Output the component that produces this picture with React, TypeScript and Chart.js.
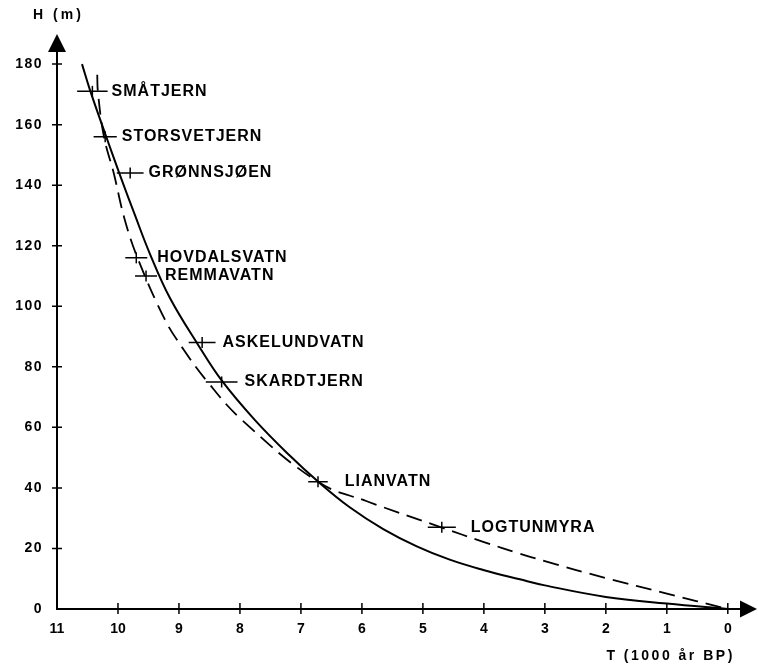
import React, { useEffect, useRef } from "react";
import { Chart, registerables } from "chart.js";

Chart.register(...registerables);

// ---- data ----
const siteNames = [
  "SMÅTJERN",
  "STORSVETJERN",
  "GRØNNSJØEN",
  "HOVDALSVATN",
  "REMMAVATN",
  "ASKELUNDVATN",
  "SKARDTJERN",
  "LIANVATN",
  "LOGTUNMYRA",
];
const siteAge = [10.42, 10.21, 9.8, 9.7, 9.54, 8.62, 8.3, 6.72, 4.69];
const siteHeight = [171, 156, 144, 116, 110, 88, 75, 42, 27];
const siteAgeError = [0.25, 0.19, 0.22, 0.18, 0.18, 0.22, 0.26, 0.16, 0.23];

const solidAge = [10.59, 10.46, 10.21, 9.97, 9.72, 9.48, 9.15, 8.69, 8.3, 7.75, 7.18, 6.72, 6.2, 5.65, 5.1, 4.56, 4.01, 3.41, 3.0, 2.0, 1.0, 0];
const solidHeight = [180, 171.5, 157, 143.5, 130, 117.5, 102.8, 87.4, 75.5, 62.3, 50.6, 42.1, 33.6, 26.4, 20.7, 16.3, 12.9, 9.8, 7.8, 4.0, 1.8, 0];

const dashedAge = [10.34, 10.33, 10.23, 10.07, 9.89, 9.67, 9.23, 8.95, 8.55, 7.97, 6.72, 5.92, 4.69, 4.01, 3.41, 3.0, 2.0, 1.0, 0];
const dashedHeight = [176.5, 171, 156, 144, 128.7, 115.5, 95.6, 86.5, 75.5, 62.5, 42, 35.6, 26.9, 22.2, 18.3, 15.8, 10.2, 5.1, 0];

const xTickValues = [0, 1, 2, 3, 4, 5, 6, 7, 8, 9, 10, 11];
const yTickValues = [0, 20, 40, 60, 80, 100, 120, 140, 160, 180];

const yAxisTitle = "H (m)";
const xAxisTitle = "T (1000 år BP)";

// ---- layout / style (not data) ----
const labelGapPx = [4, 5, 5, 10, 8, 7, 7, 17, 15];
const AXISFONT = "'Liberation Sans', Arial, sans-serif";
const LABELFONT = "'Liberation Sans', Arial, sans-serif";

const decorPlugin = {
  id: "decor",
  beforeDraw(chart: any) {
    const ys = chart.scales.y;
    if (ys && !ys.__spaced) {
      const orig = ys.drawLabels;
      ys.drawLabels = function (area: any) {
        const c = this.ctx;
        c.save();
        c.letterSpacing = "1.5px";
        orig.call(this, area);
        c.restore();
      };
      ys.__spaced = true;
    }
  },
  afterDraw(chart: any) {
    const { ctx, chartArea } = chart;
    const xs = chart.scales.x;
    const ys = chart.scales.y;
    ctx.save();
    ctx.strokeStyle = "#000";
    ctx.fillStyle = "#000";

    // axis arrows
    const axX = chartArea.left;
    const axY = chartArea.bottom;
    ctx.beginPath();
    ctx.moveTo(axX - 9, chartArea.top);
    ctx.lineTo(axX + 9, chartArea.top);
    ctx.lineTo(axX, chartArea.top - 18);
    ctx.closePath();
    ctx.fill();
    ctx.beginPath();
    ctx.moveTo(chartArea.right, axY - 8.5);
    ctx.lineTo(chartArea.right, axY + 8.5);
    ctx.lineTo(chartArea.right + 17, axY);
    ctx.closePath();
    ctx.fill();

    // tick marks crossing the axes
    ctx.lineWidth = 1.5;
    ctx.beginPath();
    for (const v of xTickValues) {
      if (v === 11) continue;
      const px = xs.getPixelForValue(v);
      ctx.moveTo(px, axY - 6);
      ctx.lineTo(px, axY + 5);
    }
    for (const v of yTickValues) {
      if (v === 0) continue;
      const py = ys.getPixelForValue(v);
      ctx.moveTo(axX - 5, py);
      ctx.lineTo(axX + 5, py);
    }
    ctx.stroke();

    // horizontal error bars
    ctx.lineWidth = 1.5;
    ctx.beginPath();
    siteAge.forEach((t, i) => {
      const py = ys.getPixelForValue(siteHeight[i]);
      ctx.moveTo(xs.getPixelForValue(t + siteAgeError[i]), py);
      ctx.lineTo(xs.getPixelForValue(t - siteAgeError[i]), py);
    });
    ctx.stroke();

    // site labels
    ctx.font = `bold 16px ${LABELFONT}`;
    ctx.letterSpacing = "1px";
    ctx.textAlign = "left";
    ctx.textBaseline = "middle";
    siteNames.forEach((name, i) => {
      const px = xs.getPixelForValue(siteAge[i] - siteAgeError[i]) + labelGapPx[i];
      const py = ys.getPixelForValue(siteHeight[i]);
      ctx.fillText(name, px, py);
    });

    // axis titles
    ctx.font = `bold 14px ${AXISFONT}`;
    ctx.letterSpacing = "3px";
    ctx.textAlign = "center";
    ctx.fillText(yAxisTitle, axX + 1.5, 15);
    ctx.letterSpacing = "2.5px";
    ctx.textAlign = "right";
    ctx.fillText(xAxisTitle, xs.getPixelForValue(0) + 7, 656);
    ctx.restore();
  },
};

export default function App() {
  const ref = useRef<HTMLCanvasElement | null>(null);
  useEffect(() => {
    if (!ref.current) return;
    const chart = new Chart(ref.current, {
      type: "scatter",
      data: {
        datasets: [
          {
            label: "solid",
            data: solidAge.map((t, i) => ({ x: t, y: solidHeight[i] })),
            showLine: true,
            borderColor: "#000",
            borderWidth: 2,
            pointRadius: 0,
            tension: 0.4,
            fill: false,
          },
          {
            label: "dashed",
            data: dashedAge.map((t, i) => ({ x: t, y: dashedHeight[i] })),
            showLine: true,
            borderColor: "#000",
            borderWidth: 1.8,
            borderDash: [16, 8],
            pointRadius: 0,
            tension: 0.4,
            fill: false,
          },
          {
            label: "sites",
            data: siteAge.map((t, i) => ({ x: t, y: siteHeight[i] })),
            showLine: false,
            pointStyle: "line",
            rotation: 90,
            pointRadius: 5.5,
            borderColor: "#000",
            backgroundColor: "#000",
            pointBorderWidth: 1.5,
          } as any,
        ],
      },
      options: {
        animation: false,
        responsive: false,
        devicePixelRatio: 1,
        layout: { padding: { top: 52, right: 18, left: 0, bottom: 0 } },
        plugins: {
          legend: { display: false },
          tooltip: { enabled: false },
          title: { display: false },
        },
        scales: {
          x: {
            type: "linear",
            reverse: true,
            min: -0.2,
            max: 11,
            afterBuildTicks: (s: any) => {
              s.ticks = xTickValues.map((v) => ({ value: v }));
            },
            afterFit: (s: any) => {
              s.height = 61;
            },
            grid: { display: false, drawTicks: false },
            border: { display: true, color: "#000", width: 2 },
            ticks: {
              color: "#000",
              padding: 12,
              maxRotation: 0,
              autoSkip: false,
              font: { family: AXISFONT, size: 14, weight: "bold" },
              callback: (v: any) => String(v),
            },
          },
          y: {
            type: "linear",
            min: 0,
            max: 184,
            afterBuildTicks: (s: any) => {
              s.ticks = yTickValues.map((v) => ({ value: v }));
            },
            afterFit: (s: any) => {
              s.width = 57;
            },
            grid: { display: false, drawTicks: false },
            border: { display: true, color: "#000", width: 2 },
            ticks: {
              color: "#000",
              padding: 14,
              autoSkip: false,
              font: { family: AXISFONT, size: 14, weight: "bold" },
              callback: (v: any) => String(v),
            },
          },
        },
      },
      plugins: [decorPlugin],
    });
    return () => chart.destroy();
  }, []);
  return (
    <div style={{ position: "absolute", left: 0, top: 0, width: 758, height: 670, background: "#fff" }}>
      <canvas ref={ref} width={758} height={670} style={{ width: 758, height: 670, display: "block" }} />
    </div>
  );
}
